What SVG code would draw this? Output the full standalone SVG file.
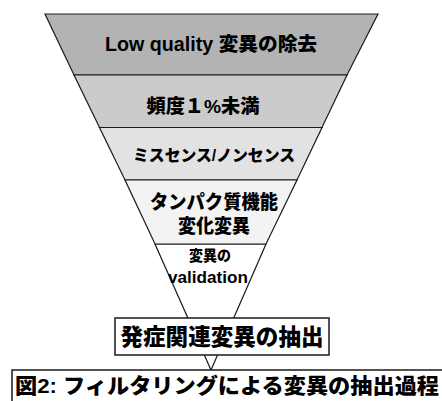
<svg xmlns="http://www.w3.org/2000/svg" width="442" height="401" viewBox="0 0 442 401">
<style>
.band{stroke:#1a1a1a;stroke-width:1.2;stroke-linejoin:miter}
.t{font-family:"Liberation Sans","Noto Sans CJK JP",sans-serif;font-weight:900;fill:#000;text-anchor:middle;dominant-baseline:central}
.box{fill:#fff;stroke:#1a1a1a;stroke-width:1.5}
</style>
<rect width="442" height="401" fill="#fff"/>
<g id="connectors">
<polygon class="band" points="155,244 266,244 211,370" fill="#fff"/>
</g>
<g id="band1">
<polygon class="band" points="45,14 378,14 347,75 74,75" fill="#b3b3b3"/>
<text class="t" x="211" y="44" font-size="19.5" textLength="212" lengthAdjust="spacingAndGlyphs">Low quality 変異の除去</text>
</g>
<g id="band2">
<polygon class="band" points="74,75 347,75 322,127.5 99.5,127.5" fill="#cbcbcb"/>
<text class="t" x="203" y="106" font-size="19" textLength="113" lengthAdjust="spacingAndGlyphs">頻度１%未満</text>
</g>
<g id="band3">
<polygon class="band" points="99.5,127.5 322,127.5 297,180 125,180" fill="#e2e2e2"/>
<text class="t" x="214" y="155.5" font-size="16" textLength="162" lengthAdjust="spacingAndGlyphs">ミスセンス/ノンセンス</text>
</g>
<g id="band4">
<polygon class="band" points="125,180 297,180 266,244 155,244" fill="#f3f3f3"/>
<text class="t" x="214" y="202" font-size="19" textLength="128" lengthAdjust="spacingAndGlyphs">タンパク質機能</text>
<text class="t" x="214" y="226" font-size="19" textLength="72" lengthAdjust="spacingAndGlyphs">変化変異</text>
</g>
<g id="band5">
<text class="t" x="210" y="255" font-size="15" textLength="42" lengthAdjust="spacingAndGlyphs">変異の</text>
<text class="t" x="208" y="277" font-size="17" textLength="80" lengthAdjust="spacingAndGlyphs">validation</text>
</g>
<g id="result">
<rect class="box" x="115" y="318" width="214" height="37"/>
<text class="t" x="222" y="337" font-size="23" textLength="203" lengthAdjust="spacingAndGlyphs">発症関連変異の抽出</text>
</g>
<g id="caption">
<rect class="box" x="12" y="370" width="440" height="40"/>
<text class="t" x="227" y="385" font-size="21" textLength="424" lengthAdjust="spacingAndGlyphs">図2: フィルタリングによる変異の抽出過程</text>
</g>
</svg>
